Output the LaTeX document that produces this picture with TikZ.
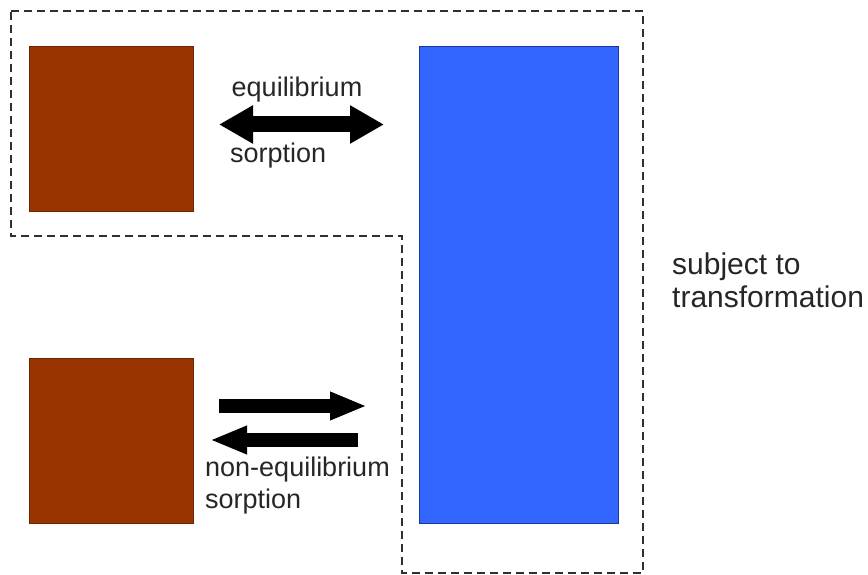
\documentclass[tikz,border=0pt]{standalone}
\usepackage{fontspec}
\setmainfont{Liberation Sans}
\usetikzlibrary{arrows.meta}
\definecolor{brownbox}{HTML}{993300}
\definecolor{bluebox}{HTML}{3366FF}
\definecolor{dashcol}{HTML}{303030}
\begin{document}
\begin{tikzpicture}[x=1pt,y=-1pt,
  brownsq/.style={draw=brownbox!70!black,line width=0.8pt,fill=brownbox,minimum width=164pt,minimum height=165pt,inner sep=0pt,anchor=north west},
  bluerect/.style={draw=bluebox!55!black,line width=0.8pt,fill=bluebox,minimum width=199pt,minimum height=477pt,inner sep=0pt,anchor=north west},
  lbl/.style={font=\fontsize{27}{32}\selectfont,inner sep=0pt,align=left,text=black!85},
  rlbl/.style={font=\fontsize{30}{33}\selectfont,inner sep=0pt,align=left,text=black!85},
  fatboth/.style={line width=16pt,{Triangle[length=34pt,width=36pt]}-{Triangle[length=34pt,width=36pt]}},
  fatone/.style={line width=14pt,-{Triangle[length=37pt,width=26pt]}},
  dashbox/.style={draw=dashcol,line width=2.5pt,dash pattern=on 8pt off 5pt}
]
\useasboundingbox (0,0) rectangle (868,575);
% boxes
\node[brownsq] (b1) at (29,46) {};
\node[brownsq] (b2) at (29,358) {};
\node[bluerect] (bl) at (419,46) {};
% dashed outline
\coordinate (d1) at (11,11);
\coordinate (d2) at (643,11);
\coordinate (d3) at (643,573);
\coordinate (d4) at (402,573);
\coordinate (d5) at (402,236);
\coordinate (d6) at (11,236);
\draw[dashbox] (d1) -- (d2) -- (d3) -- (d4) -- (d5) -- (d6) -- cycle;
% equilibrium arrow
\coordinate (e1) at (219,124.5);
\coordinate (e2) at (384,124.5);
\draw[fatboth] (e1) -- (e2);
\node[lbl,anchor=center] (teq) at (297,90) {equilibrium};
\node[lbl,anchor=west] (tso) at (230,156) {sorption};
% non-equilibrium arrows
\coordinate (n1) at (219,406);
\coordinate (n2) at (367,406);
\draw[fatone] (n1) -- (n2);
\coordinate (n3) at (358,440);
\coordinate (n4) at (210,440);
\draw[fatone] (n3) -- (n4);
\node[lbl,anchor=north west] (tne) at (205,457) {non-equilibrium\\sorption};
% right label
\node[rlbl,anchor=north west] (tst) at (672,253) {subject to\\transformation};
\end{tikzpicture}
\end{document}
